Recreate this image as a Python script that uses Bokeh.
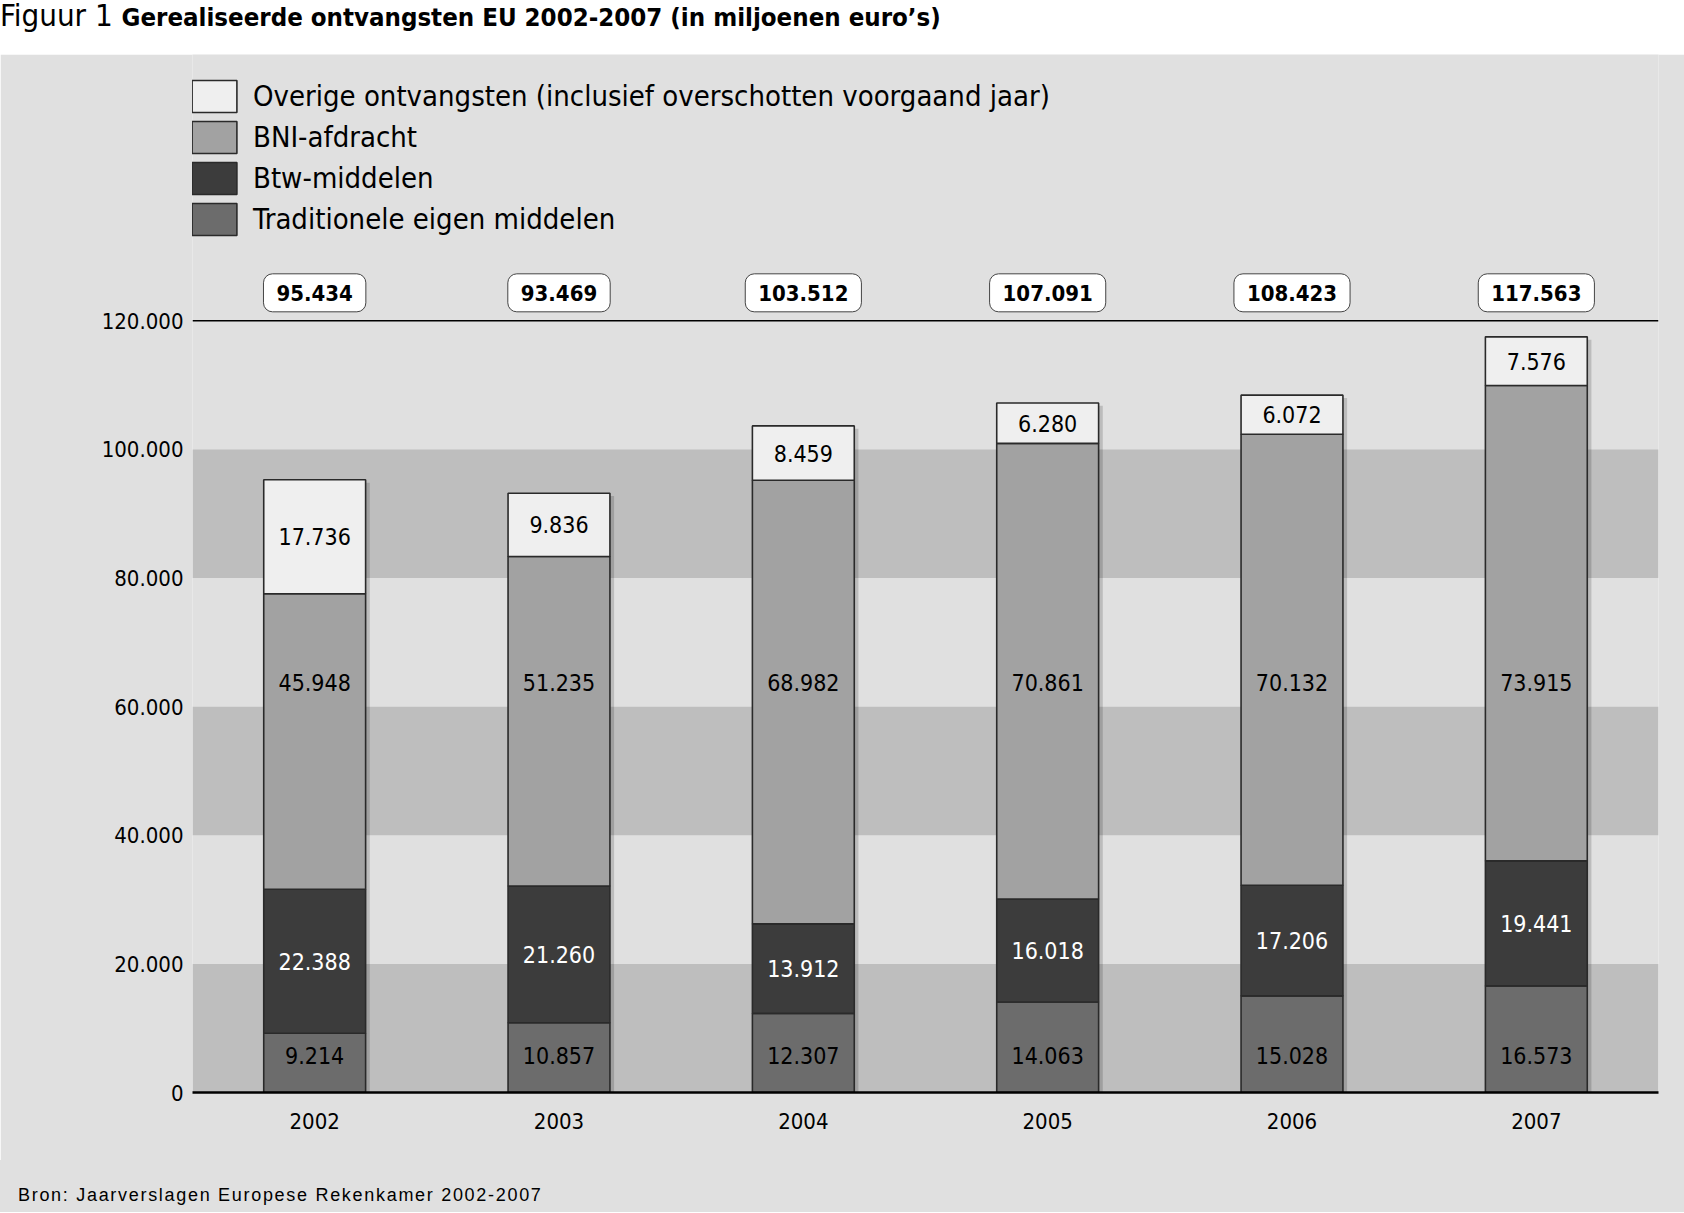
from bokeh.plotting import figure
from bokeh.models import (ColumnDataSource, FactorRange, Range1d, FixedTicker, Span,
                          BoxAnnotation, Legend, LegendItem, Div)
from bokeh.layouts import column
from bokeh.transform import dodge
from bokeh.core.properties import value
from bokeh.embed import file_html
from bokeh.resources import INLINE

# ---------------- data ----------------
years = ["2002", "2003", "2004", "2005", "2006", "2007"]
trad = [9214, 10857, 12307, 14063, 15028, 16573]
btw = [22388, 21260, 13912, 16018, 17206, 19441]
bni = [45948, 51235, 68982, 70861, 70132, 73915]
overige = [17736, 9836, 8459, 6280, 6072, 7576]
totals = [95434, 93469, 103512, 107091, 108423, 117563]

series_names = ["Traditionele eigen middelen", "Btw-middelen", "BNI-afdracht",
                "Overige ontvangsten (inclusief overschotten voorgaand jaar)"]
y_ticks = [0, 20000, 40000, 60000, 80000, 100000, 120000]

title_plain = "Figuur 1 "
title_bold = "Gerealiseerde ontvangsten EU 2002-2007 (in miljoenen euro\u2019s)"
source_note = "Bron: Jaarverslagen Europese Rekenkamer 2002-2007"

# ---------------- styles ----------------
COND_CSS = "'Liberation Sans Narrow', 'DejaVu Sans Condensed', 'Arial Narrow', sans-serif"
COND = value(COND_CSS)
BG = "#e0e0e0"
BAND = "#bebebe"
colors = ["#6c6c6c", "#3c3c3c", "#a2a2a2", "#efefef"]
OUTLINE = "#2a2a2a"

W = 1684
TITLE_H = 54
FIG_H = 1106
NOTE_H = 52
FRAME_L, FRAME_R, FRAME_B = 192, 26, 68
frame_h = FIG_H - FRAME_B
px_per_unit = 771.7 / 120000.0
ymax = frame_h / px_per_unit

TOTAL_LABEL_Y = 124350
TRAD_LABEL_Y = 5750
BNI_LABEL_Y = 63700
BAR_W = 0.417


def nl(v):
    return f"{v:,}".replace(",", ".")


# ---------------- derived ----------------
b1 = trad
b2 = [a + b for a, b in zip(trad, btw)]
b3 = [a + b for a, b in zip(b2, bni)]
b4 = [a + b for a, b in zip(b3, overige)]

src = ColumnDataSource(dict(year=years, trad=trad, btw=btw, bni=bni, overige=overige))

p = figure(x_range=FactorRange(*years), y_range=Range1d(0, ymax),
           width=W, height=FIG_H, output_backend="svg", toolbar_location=None,
           min_border_left=FRAME_L, min_border_right=FRAME_R,
           min_border_top=0, min_border_bottom=FRAME_B)
p.x_range.range_padding = 0
p.background_fill_color = BG
p.border_fill_color = BG
p.outline_line_color = None
p.xgrid.visible = False
p.ygrid.visible = False

# bands
for lo in (0, 40000, 80000):
    p.add_layout(BoxAnnotation(bottom=lo, top=lo + 20000, fill_color=BAND, fill_alpha=1,
                               line_color=None, level="underlay"))

# top line at 120.000
p.add_layout(Span(location=120000, dimension="width", line_color="black", line_width=1.5))

# bar shadows
shadow_src = ColumnDataSource(dict(year=years, top=[t - 450 for t in b4]))
p.vbar(x=dodge("year", 0.017, range=p.x_range), top="top", bottom=0,
       width=BAR_W, source=shadow_src,
       fill_color="black", fill_alpha=0.16, line_color=None)

stack_keys = ["trad", "btw", "bni", "overige"]
rs = p.vbar_stack(stack_keys, x="year", width=BAR_W, source=src,
                  fill_color=colors, line_color=OUTLINE, line_width=1.6)

# segment labels
lab_black = ColumnDataSource(dict(
    x=years * 3,
    y=[TRAD_LABEL_Y] * 6 + [BNI_LABEL_Y] * 6 + [(a + b) / 2 for a, b in zip(b3, b4)],
    t=[nl(v) for v in trad] + [nl(v) for v in bni] + [nl(v) for v in overige]))
p.text(x="x", y="y", text="t", source=lab_black, text_font=COND, text_font_size="23px",
       text_color="black", text_align="center", text_baseline="middle")
lab_white = ColumnDataSource(dict(x=years, y=[(a + b) / 2 for a, b in zip(b1, b2)],
                                  t=[nl(v) for v in btw]))
p.text(x="x", y="y", text="t", source=lab_white, text_font=COND, text_font_size="23px",
       text_color="white", text_align="center", text_baseline="middle")

# total labels
tot_src = ColumnDataSource(dict(x=years, t=[nl(v) for v in totals]))
p.text(x="x", y=TOTAL_LABEL_Y, text="t", source=tot_src, text_font=COND,
       text_font_size="22px", text_font_style="bold", text_color="black",
       text_align="center", text_baseline="middle",
       background_fill_color="white", border_line_color="#444444", border_line_width=1,
       padding=(13, 11), border_radius=9)

# axes
p.yaxis.ticker = FixedTicker(ticks=y_ticks)
p.yaxis.major_label_overrides = {t: nl(t) for t in y_ticks}
p.yaxis.axis_line_color = None
p.yaxis.major_tick_line_color = None
p.yaxis.minor_tick_line_color = None
p.yaxis.major_tick_out = 0
p.yaxis.major_tick_in = 0
p.yaxis.major_label_standoff = 9
p.yaxis.major_label_text_font = COND_CSS
p.yaxis.major_label_text_font_size = "22px"
p.yaxis.major_label_text_color = "black"

p.xaxis.axis_line_color = "black"
p.xaxis.axis_line_width = 2.5
p.xaxis.major_tick_line_color = None
p.xaxis.major_tick_out = 0
p.xaxis.major_tick_in = 0
p.xaxis.major_label_standoff = 20
p.xaxis.major_label_text_font = COND_CSS
p.xaxis.major_label_text_font_size = "22px"
p.xaxis.major_label_text_color = "black"

# legend (top to bottom: overige, bni, btw, trad)
items = [LegendItem(label=series_names[i], renderers=[rs[i]]) for i in (3, 2, 1, 0)]
legend = Legend(items=items, location=(-6, 853), orientation="vertical",
                glyph_width=56, glyph_height=40, label_height=40, spacing=1,
                label_standoff=11, padding=0, margin=0,
                border_line_color=None, background_fill_alpha=0,
                label_text_font=COND_CSS, label_text_font_size="29px",
                label_text_color="black")
p.add_layout(legend, "center")
p.margin = (0, 0, 0, 0)

title = Div(text=(f'<div style="font-family: {COND_CSS}; color: black; '
                  f'line-height: 30px; white-space: nowrap;">'
                  f'<span style="font-size: 31px;">{title_plain}</span>'
                  f'<b style="font-size: 25.6px;">{title_bold}</b></div>'),
            width=W, height=TITLE_H, margin=(0, 0, 0, 0))

note = Div(text=(f'<div style="font-family: \'Liberation Sans\', Arial, sans-serif; '
                 f'font-size: 18px; letter-spacing: 1.7px; color: black; padding-left: 18px; '
                 f'padding-top: 25px; line-height: 20px; white-space: nowrap;">{source_note}</div>'),
           width=W, height=NOTE_H, margin=(0, 0, 0, 0),
           styles={"background-color": BG})

layout = column(title, p, note, spacing=0)
open("out.html", "w").write(file_html(layout, INLINE))
